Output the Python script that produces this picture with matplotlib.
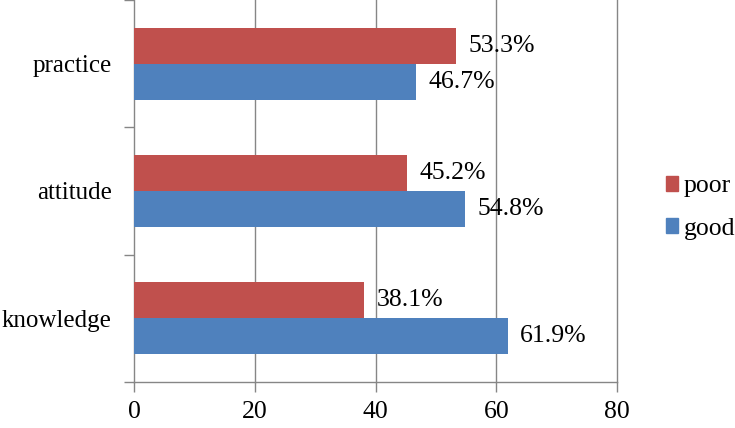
import matplotlib.pyplot as plt
from matplotlib.patches import Patch
import numpy as np

categories = ["knowledge", "attitude", "practice"]
good = [61.9, 54.8, 46.7]
poor = [38.1, 45.2, 53.3]
xticks = [0, 20, 40, 60, 80]

plt.rcParams["font.family"] = ["Liberation Serif", "DejaVu Serif"]

fig = plt.figure(figsize=(7.35, 4.28), dpi=100)
ax = fig.add_axes([0.1823, 0.1075, 0.8395 - 0.1823, 0.8925])

y = np.arange(len(categories))
h = 0.283
c_good = "#4F81BD"
c_poor = "#C0504D"
grey = "#868686"

bars_poor = ax.barh(y + h / 2, poor, height=h, color=c_poor, zorder=3)
bars_good = ax.barh(y - h / 2, good, height=h, color=c_good, zorder=3)

for bars, vals in [(bars_poor, poor), (bars_good, good)]:
    for b, v in zip(bars, vals):
        ax.annotate(f"{v}%", (v, b.get_y() + b.get_height() / 2),
                    xytext=(9, 0), textcoords="offset points",
                    va="center", ha="left", fontsize=18.5, zorder=4)

ax.set_xlim(0, 80)
ax.set_ylim(-0.5, 2.5)
ax.set_xticks(xticks)
ax.set_xticklabels([str(t) for t in xticks], fontsize=18.5)
for t in xticks[1:]:
    ax.axvline(t, color=grey, lw=1, zorder=0, clip_on=False)

ax.set_yticks(np.arange(-0.5, 3.0, 1.0))
ax.set_yticklabels([])
ax.set_yticks(y, minor=True)
ax.set_yticklabels(categories, minor=True, fontsize=18)
ax.tick_params(axis="y", which="minor", length=0, pad=16)
ax.tick_params(axis="y", which="major", length=7, color=grey, width=1)
ax.tick_params(axis="x", length=7, color=grey, width=1, pad=7)

for s in ["top", "right"]:
    ax.spines[s].set_visible(False)
for s in ["left", "bottom"]:
    ax.spines[s].set_color(grey)
    ax.spines[s].set_linewidth(1)

handles = [Patch(color=c_poor, label="poor"), Patch(color=c_good, label="good")]
fig.legend(handles=handles, loc="center left", bbox_to_anchor=(0.888, 0.515),
           frameon=False, fontsize=18.5, handlelength=0.5, handleheight=0.5,
           handletextpad=0.2, labelspacing=0.8, borderpad=0)

fig.savefig("out.png", dpi=100)
